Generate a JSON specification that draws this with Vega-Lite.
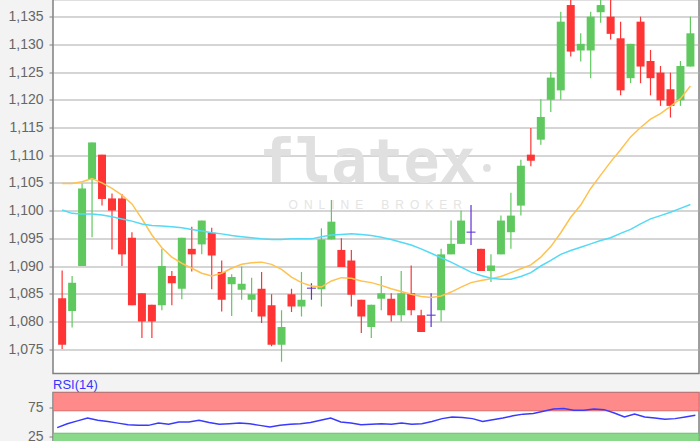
{
  "$schema": "https://vega.github.io/schema/vega-lite/v6.json",
  "background": "#f3f3f3",
  "padding": {"left": 7, "top": -1.5, "right": 1, "bottom": 0},
  "spacing": 3,
  "config": {
    "locale": {"number": {"decimal": ",", "thousands": ".", "grouping": [3], "currency": ["", " €"]}},
    "view": {"fill": "white", "stroke": "#808080", "strokeWidth": 1.5},
    "axis": {"labelFont": "Liberation Sans", "labelFontSize": 14, "labelColor": "#666666", "grid": true, "gridColor": "#ababab", "gridWidth": 1.2, "gridOpacity": 1, "tickColor": "#808080", "tickSize": 4, "labelPadding": 6, "labelOverlap": false, "domain": false, "title": null}
  },
  "datasets": {
    "k": [
      {"i":1,"o":1.0842,"h":1.0892,"l":1.0750,"c":1.0758,"d":"down","ma1":1.1049,"ma2":1.1001,"rsi":40},
      {"i":2,"o":1.0819,"h":1.0882,"l":1.0789,"c":1.0870,"d":"up","ma1":1.1049,"ma2":1.0995,"rsi":47},
      {"i":3,"o":1.0900,"h":1.1049,"l":1.0900,"c":1.1040,"d":"up","ma1":1.1052,"ma2":1.0994,"rsi":52},
      {"i":4,"o":1.1057,"h":1.1123,"l":1.0952,"c":1.1123,"d":"up","ma1":1.1058,"ma2":1.0994,"rsi":57},
      {"i":5,"o":1.1101,"h":1.1101,"l":1.1009,"c":1.1021,"d":"down","ma1":1.1050,"ma2":1.0992,"rsi":53},
      {"i":6,"o":1.1022,"h":1.1031,"l":1.0930,"c":1.1000,"d":"down","ma1":1.1040,"ma2":1.0989,"rsi":51},
      {"i":7,"o":1.1022,"h":1.1030,"l":1.0900,"c":1.0921,"d":"down","ma1":1.1028,"ma2":1.0985,"rsi":48},
      {"i":8,"o":1.0951,"h":1.0961,"l":1.0829,"c":1.0829,"d":"down","ma1":1.1012,"ma2":1.0981,"rsi":45},
      {"i":9,"o":1.0851,"h":1.0851,"l":1.0770,"c":1.0800,"d":"down","ma1":1.0985,"ma2":1.0976,"rsi":44},
      {"i":10,"o":1.0830,"h":1.0830,"l":1.0770,"c":1.0800,"d":"down","ma1":1.0956,"ma2":1.0973,"rsi":44},
      {"i":11,"o":1.0829,"h":1.0931,"l":1.0820,"c":1.0900,"d":"up","ma1":1.0933,"ma2":1.0972,"rsi":48},
      {"i":12,"o":1.0882,"h":1.0891,"l":1.0829,"c":1.0869,"d":"down","ma1":1.0916,"ma2":1.0971,"rsi":46},
      {"i":13,"o":1.0859,"h":1.0951,"l":1.0840,"c":1.0951,"d":"up","ma1":1.0905,"ma2":1.0969,"rsi":50},
      {"i":14,"o":1.0931,"h":1.0971,"l":1.0890,"c":1.0921,"d":"down","ma1":1.0896,"ma2":1.0966,"rsi":50},
      {"i":15,"o":1.0939,"h":1.0982,"l":1.0921,"c":1.0982,"d":"up","ma1":1.0887,"ma2":1.0963,"rsi":53},
      {"i":16,"o":1.0960,"h":1.0969,"l":1.0858,"c":1.0919,"d":"down","ma1":1.0882,"ma2":1.0960,"rsi":49},
      {"i":17,"o":1.0889,"h":1.0910,"l":1.0818,"c":1.0839,"d":"down","ma1":1.0887,"ma2":1.0958,"rsi":46},
      {"i":18,"o":1.0867,"h":1.0885,"l":1.0810,"c":1.0880,"d":"up","ma1":1.0896,"ma2":1.0955,"rsi":47},
      {"i":19,"o":1.0857,"h":1.0899,"l":1.0839,"c":1.0868,"d":"up","ma1":1.0903,"ma2":1.0953,"rsi":48},
      {"i":20,"o":1.0839,"h":1.0879,"l":1.0817,"c":1.0849,"d":"up","ma1":1.0906,"ma2":1.0951,"rsi":47},
      {"i":21,"o":1.0859,"h":1.0889,"l":1.0797,"c":1.0809,"d":"down","ma1":1.0907,"ma2":1.0949,"rsi":44},
      {"i":22,"o":1.0829,"h":1.0849,"l":1.0755,"c":1.0758,"d":"down","ma1":1.0903,"ma2":1.0948,"rsi":41},
      {"i":23,"o":1.0758,"h":1.0820,"l":1.0727,"c":1.0790,"d":"up","ma1":1.0894,"ma2":1.0948,"rsi":44},
      {"i":24,"o":1.0849,"h":1.0859,"l":1.0817,"c":1.0827,"d":"down","ma1":1.0880,"ma2":1.0949,"rsi":46},
      {"i":25,"o":1.0827,"h":1.0889,"l":1.0809,"c":1.0839,"d":"up","ma1":1.0870,"ma2":1.0949,"rsi":47},
      {"i":26,"o":1.0860,"h":1.0869,"l":1.0839,"c":1.0860,"d":"flat","ma1":1.0864,"ma2":1.0949,"rsi":49},
      {"i":27,"o":1.0858,"h":1.0968,"l":1.0827,"c":1.0948,"d":"up","ma1":1.0862,"ma2":1.0953,"rsi":53},
      {"i":28,"o":1.0948,"h":1.1019,"l":1.0948,"c":1.0980,"d":"up","ma1":1.0873,"ma2":1.0956,"rsi":57},
      {"i":29,"o":1.0929,"h":1.0950,"l":1.0898,"c":1.0898,"d":"down","ma1":1.0879,"ma2":1.0957,"rsi":50},
      {"i":30,"o":1.0910,"h":1.0929,"l":1.0827,"c":1.0848,"d":"down","ma1":1.0878,"ma2":1.0958,"rsi":48},
      {"i":31,"o":1.0839,"h":1.0839,"l":1.0779,"c":1.0809,"d":"down","ma1":1.0873,"ma2":1.0957,"rsi":45},
      {"i":32,"o":1.0790,"h":1.0830,"l":1.0770,"c":1.0830,"d":"up","ma1":1.0870,"ma2":1.0955,"rsi":46},
      {"i":33,"o":1.0841,"h":1.0882,"l":1.0820,"c":1.0851,"d":"up","ma1":1.0865,"ma2":1.0952,"rsi":47},
      {"i":34,"o":1.0841,"h":1.0851,"l":1.0800,"c":1.0811,"d":"down","ma1":1.0859,"ma2":1.0948,"rsi":46},
      {"i":35,"o":1.0811,"h":1.0891,"l":1.0800,"c":1.0851,"d":"up","ma1":1.0854,"ma2":1.0943,"rsi":48},
      {"i":36,"o":1.0851,"h":1.0901,"l":1.0811,"c":1.0820,"d":"down","ma1":1.0849,"ma2":1.0938,"rsi":46},
      {"i":37,"o":1.0811,"h":1.0821,"l":1.0781,"c":1.0781,"d":"down","ma1":1.0845,"ma2":1.0931,"rsi":47},
      {"i":38,"o":1.0811,"h":1.0851,"l":1.0790,"c":1.0811,"d":"flat","ma1":1.0843,"ma2":1.0923,"rsi":51},
      {"i":39,"o":1.0820,"h":1.0931,"l":1.0800,"c":1.0921,"d":"up","ma1":1.0846,"ma2":1.0915,"rsi":56},
      {"i":40,"o":1.0921,"h":1.0982,"l":1.0921,"c":1.0940,"d":"up","ma1":1.0853,"ma2":1.0907,"rsi":59},
      {"i":41,"o":1.0940,"h":1.1000,"l":1.0940,"c":1.0982,"d":"up","ma1":1.0862,"ma2":1.0898,"rsi":58},
      {"i":42,"o":1.0961,"h":1.1010,"l":1.0938,"c":1.0961,"d":"flat","ma1":1.0870,"ma2":1.0889,"rsi":56},
      {"i":43,"o":1.0931,"h":1.0931,"l":1.0891,"c":1.0891,"d":"down","ma1":1.0874,"ma2":1.0883,"rsi":51},
      {"i":44,"o":1.0891,"h":1.0921,"l":1.0871,"c":1.0901,"d":"up","ma1":1.0877,"ma2":1.0878,"rsi":54},
      {"i":45,"o":1.0921,"h":1.0991,"l":1.0921,"c":1.0982,"d":"up","ma1":1.0881,"ma2":1.0876,"rsi":57},
      {"i":46,"o":1.0961,"h":1.1032,"l":1.0931,"c":1.0991,"d":"up","ma1":1.0888,"ma2":1.0876,"rsi":61},
      {"i":47,"o":1.1009,"h":1.1092,"l":1.0991,"c":1.1081,"d":"up","ma1":1.0895,"ma2":1.0881,"rsi":64},
      {"i":48,"o":1.1101,"h":1.1149,"l":1.1080,"c":1.1090,"d":"down","ma1":1.0902,"ma2":1.0888,"rsi":65},
      {"i":49,"o":1.1128,"h":1.1201,"l":1.1119,"c":1.1169,"d":"up","ma1":1.0916,"ma2":1.0900,"rsi":69},
      {"i":50,"o":1.1200,"h":1.1250,"l":1.1178,"c":1.1240,"d":"up","ma1":1.0935,"ma2":1.0910,"rsi":73},
      {"i":51,"o":1.1217,"h":1.1359,"l":1.1200,"c":1.1341,"d":"up","ma1":1.0960,"ma2":1.0921,"rsi":74},
      {"i":52,"o":1.1371,"h":1.1390,"l":1.1278,"c":1.1287,"d":"down","ma1":1.0988,"ma2":1.0928,"rsi":71},
      {"i":53,"o":1.1289,"h":1.1320,"l":1.1269,"c":1.1301,"d":"up","ma1":1.1010,"ma2":1.0934,"rsi":71},
      {"i":54,"o":1.1289,"h":1.1359,"l":1.1239,"c":1.1350,"d":"up","ma1":1.1040,"ma2":1.0940,"rsi":73},
      {"i":55,"o":1.1358,"h":1.1390,"l":1.1339,"c":1.1371,"d":"up","ma1":1.1064,"ma2":1.0946,"rsi":72},
      {"i":56,"o":1.1350,"h":1.1390,"l":1.1309,"c":1.1319,"d":"down","ma1":1.1088,"ma2":1.0951,"rsi":66},
      {"i":57,"o":1.1311,"h":1.1341,"l":1.1208,"c":1.1217,"d":"down","ma1":1.1110,"ma2":1.0959,"rsi":59},
      {"i":58,"o":1.1239,"h":1.1301,"l":1.1230,"c":1.1301,"d":"up","ma1":1.1133,"ma2":1.0966,"rsi":64},
      {"i":59,"o":1.1341,"h":1.1350,"l":1.1230,"c":1.1260,"d":"down","ma1":1.1150,"ma2":1.0976,"rsi":59},
      {"i":60,"o":1.1270,"h":1.1290,"l":1.1208,"c":1.1239,"d":"down","ma1":1.1165,"ma2":1.0985,"rsi":57},
      {"i":61,"o":1.1249,"h":1.1261,"l":1.1189,"c":1.1199,"d":"down","ma1":1.1175,"ma2":1.0991,"rsi":55},
      {"i":62,"o":1.1219,"h":1.1249,"l":1.1168,"c":1.1189,"d":"down","ma1":1.1188,"ma2":1.0997,"rsi":56},
      {"i":63,"o":1.1199,"h":1.1270,"l":1.1189,"c":1.1261,"d":"up","ma1":1.1202,"ma2":1.1004,"rsi":59},
      {"i":64,"o":1.1260,"h":1.1350,"l":1.1260,"c":1.1320,"d":"up","ma1":1.1225,"ma2":1.1011,"rsi":62}
    ],
    "wm": [
      {"t": "flatex", "kind": "logo"},
      {"t": "O\u2002N\u2002L\u2002I\u2002N\u2002E\u2002\u2002\u2002B\u2002R\u2002O\u2002K\u2002E\u2002R", "kind": "sub"}
    ]
  },
  "vconcat": [
    {
      "width": 646,
      "height": 374,
      "layer": [
        {
          "data": {"name": "k"},
          "mark": {"type": "rule", "strokeWidth": 1.2, "clip": true, "opacity": 0},
          "encoding": {
            "x": {"field": "i", "type": "quantitative", "scale": {"domain": [0.585, 64.36], "nice": false, "zero": false}, "axis": null},
            "y": {"field": "l", "type": "quantitative", "scale": {"domain": [1.0706, 1.1381], "nice": false, "zero": false},
                  "axis": {"tickCount": 14, "format": ".3f", "grid": true, "labelOverlap": false}},
            "y2": {"field": "h"},
            "color": {"field": "d", "type": "nominal", "scale": {"domain": ["up", "down", "flat"], "range": ["#5fc95f", "#ff3434", "#6030d8"]}, "legend": null}
          }
        },
        {
          "data": {"name": "wm"},
          "transform": [{"filter": "datum.kind == 'logo'"}],
          "mark": {"type": "text", "font": "DejaVu Sans Mono", "fontWeight": "bold", "fontSize": 60, "fill": "#e0e0e0", "baseline": "alphabetic", "align": "center"},
          "encoding": {"x": {"datum": 31.6, "type": "quantitative"}, "y": {"datum": 1.1051, "type": "quantitative"}, "text": {"field": "t", "type": "nominal"}}
        },
        {
          "data": {"name": "wm"},
          "transform": [{"filter": "datum.kind == 'sub'"}],
          "mark": {"type": "text", "font": "Liberation Sans", "fontSize": 12, "fill": "#e4e4e4", "baseline": "middle", "align": "center"},
          "encoding": {"x": {"datum": 32.4, "type": "quantitative"}, "y": {"datum": 1.1010, "type": "quantitative"}, "text": {"field": "t", "type": "nominal"}}
        },
        {
          "data": {"name": "wm"},
          "transform": [{"filter": "datum.kind == 'logo'"}],
          "mark": {"type": "point", "filled": true, "size": 60, "fill": "#e0e0e0", "opacity": 1, "strokeWidth": 0},
          "encoding": {"x": {"datum": 43.6, "type": "quantitative"}, "y": {"datum": 1.1077, "type": "quantitative"}}
        },
        {
          "data": {"name": "k"},
          "mark": {"type": "rule", "strokeWidth": 1.2, "clip": true},
          "encoding": {
            "x": {"field": "i", "type": "quantitative"},
            "y": {"field": "l", "type": "quantitative"},
            "y2": {"field": "h"},
            "color": {"field": "d", "type": "nominal", "legend": null}
          }
        },
        {
          "data": {"name": "k"},
          "transform": [{"filter": "datum.d != 'flat'"}],
          "mark": {"type": "bar", "width": 8, "clip": true},
          "encoding": {
            "x": {"field": "i", "type": "quantitative"},
            "y": {"field": "o", "type": "quantitative"},
            "y2": {"field": "c"},
            "color": {"field": "d", "type": "nominal", "legend": null}
          }
        },
        {
          "data": {"name": "k"},
          "transform": [{"filter": "datum.d == 'flat'"}],
          "mark": {"type": "tick", "orient": "horizontal", "size": 9, "thickness": 1.5, "clip": true},
          "encoding": {
            "x": {"field": "i", "type": "quantitative"},
            "y": {"field": "o", "type": "quantitative"},
            "color": {"field": "d", "type": "nominal", "legend": null}
          }
        },
        {
          "data": {"name": "k"},
          "mark": {"type": "line", "color": "#ffc24f", "strokeWidth": 1.5, "clip": true},
          "encoding": {"x": {"field": "i", "type": "quantitative"}, "y": {"field": "ma1", "type": "quantitative"}}
        },
        {
          "data": {"name": "k"},
          "mark": {"type": "line", "color": "#52daf6", "strokeWidth": 1.5, "clip": true},
          "encoding": {"x": {"field": "i", "type": "quantitative"}, "y": {"field": "ma2", "type": "quantitative"}}
        }
      ]
    },
    {
      "width": 646,
      "height": 50,
      "title": {"text": "RSI(14)", "anchor": "start", "fontSize": 13, "font": "Liberation Sans", "fontWeight": "normal", "color": "#3535ff", "offset": 1, "frame": "group"},
      "layer": [
        {
          "data": {"name": "k"},
          "mark": {"type": "line", "color": "#3a3aff", "strokeWidth": 1.5, "clip": true, "opacity": 0},
          "encoding": {
            "x": {"field": "i", "type": "quantitative", "scale": {"domain": [0.585, 64.36], "nice": false, "zero": false}, "axis": null},
            "y": {"field": "rsi", "type": "quantitative", "scale": {"domain": [13.5, 102.5], "nice": false, "zero": false},
                  "axis": {"values": [25, 50, 75], "grid": true, "labelOverlap": false, "labelExpr": "datum.value == 50 ? '' : datum.label"}}
          }
        },
        {
          "data": {"values": [{"b": "hi"}]},
          "mark": {"type": "rect", "fill": "#ff8a8a", "stroke": "#e06a6a", "strokeWidth": 1, "clip": true},
          "encoding": {
            "x": {"value": 0}, "x2": {"value": "width"},
            "y": {"datum": 70, "type": "quantitative"},
            "y2": {"datum": 102.5}
          }
        },
        {
          "data": {"values": [{"b": "lo"}]},
          "mark": {"type": "rect", "fill": "#8ad88a", "stroke": "#68c068", "strokeWidth": 1, "clip": true},
          "encoding": {
            "x": {"value": 0}, "x2": {"value": "width"},
            "y": {"datum": 0, "type": "quantitative"},
            "y2": {"datum": 30}
          }
        },
        {
          "data": {"name": "k"},
          "mark": {"type": "line", "color": "#3a3aff", "strokeWidth": 1.5, "clip": true},
          "encoding": {
            "x": {"field": "i", "type": "quantitative"},
            "y": {"field": "rsi", "type": "quantitative"}
          }
        }
      ]
    }
  ]
}
